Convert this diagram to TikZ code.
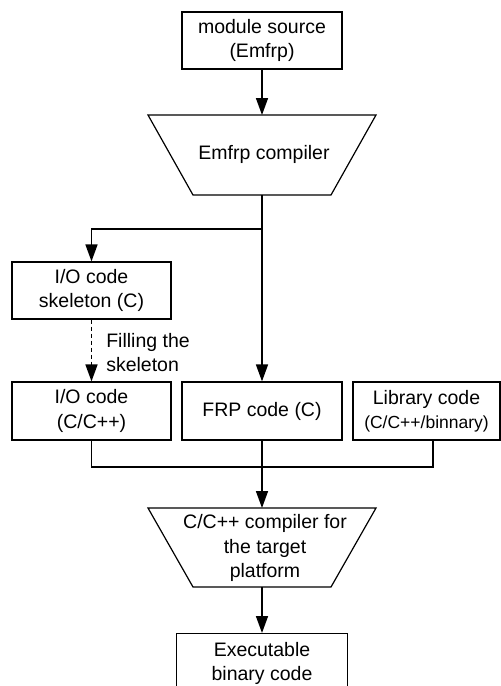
\documentclass[tikz,border=0pt]{standalone}
\usepackage{fontspec}
\setmainfont{Liberation Sans}
\usetikzlibrary{arrows.meta,calc}
\begin{document}
\begin{tikzpicture}[x=1pt,y=-1pt,
  box/.style={draw,line width=1.2pt,inner sep=0pt,align=center,font=\fontsize{19.5}{24.5}\selectfont},
  txt/.style={inner sep=0pt,align=center,font=\fontsize{19.5}{24.5}\selectfont},
  conn/.style={line width=1.6pt},
  arr/.style={conn,-{Triangle[length=17pt,width=12pt]}},
  trap/.style={draw,line width=1.2pt}]
\useasboundingbox (0,0) rectangle (501,686);
% top box
\node[box,minimum width=160pt,minimum height=57pt] (src) at (262,40.5) {module source\\(Emfrp)};
% Emfrp compiler trapezium
\draw[trap] (148,115) -- (376,115) -- (331,195) -- (193,195) -- cycle;
\node[txt] (emfrp) at (264,154.5) {Emfrp compiler};
\coordinate (emfrpT) at (262,115);
\coordinate (emfrpB) at (262,195);
\coordinate (split) at (262,229);
% middle boxes
\node[box,minimum width=159pt,minimum height=57pt] (skel) at (91.5,290.5) {I/O code\\skeleton (C)};
\node[box,minimum width=159pt,minimum height=58pt] (io) at (91.5,411) {I/O code\\(C/C++)};
\node[box,minimum width=160pt,minimum height=58pt] (frp) at (262,411) {FRP code (C)};
\node[box,minimum width=147pt,minimum height=58pt] (lib) at (426.5,411) {Library code\\{\fontsize{17.5}{22}\selectfont (C/C++/binnary)}};
% C compiler trapezium
\draw[trap] (148,508) -- (376,508) -- (331,587) -- (193,587) -- cycle;
\node[txt] (cc) at (265,548) {C/C++ compiler for\\the target\\platform};
\coordinate (ccT) at (262,508);
\coordinate (ccB) at (262,587);
% executable
\node[box,minimum width=171pt,minimum height=60pt,anchor=north] (exe) at (262,633) {Executable\\binary code};
% connectors
\draw[arr] (src.south) -- (emfrpT);
\draw[conn] (emfrpB) -- (split);
\draw[arr] (split) -| (skel.north);
\draw[arr] (split) -- (frp.north);
\draw[arr,dash pattern=on 4pt off 3pt] (skel.south) -- node[right=14pt,txt,align=left,yshift=-2pt]{Filling the\\skeleton} (io.north);
\coordinate (merge) at (262,467);
\draw[conn] (io.south) |- (merge);
\draw[conn] ([xshift=6.5pt]lib.south) |- (merge);
\draw[conn] (frp.south) -- (merge);
\draw[arr] (merge) -- (ccT);
\draw[arr] (ccB) -- (exe.north);
\end{tikzpicture}
\end{document}
